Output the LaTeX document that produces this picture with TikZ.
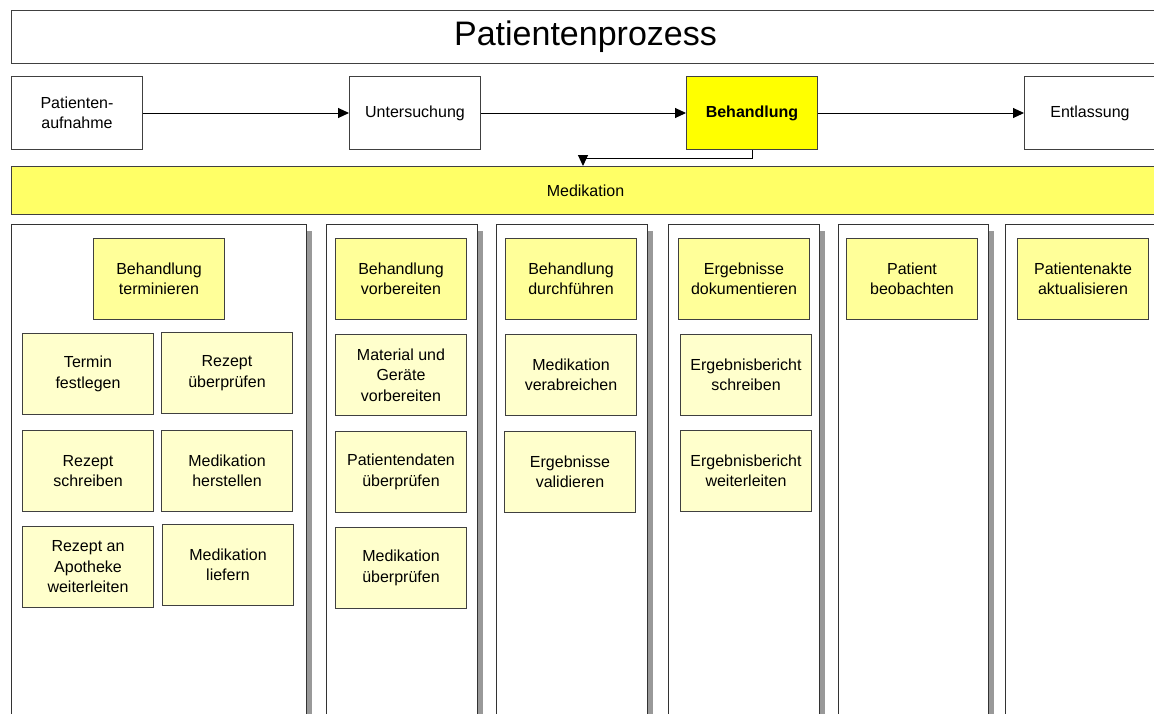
\documentclass[tikz,border=0pt]{standalone}
\usepackage{fontspec}
\setmainfont{Liberation Sans}
\usetikzlibrary{positioning, shadows, arrows.meta}

\definecolor{stepYellow}{HTML}{FFFF00}
\definecolor{barYellow}{HTML}{FFFF66}
\definecolor{taskYellow}{HTML}{FFFF99}
\definecolor{subYellow}{HTML}{FFFFCC}

\begin{document}
\begin{tikzpicture}[x=1pt, y=-1pt,
    box/.style={draw=black!75, line width=1pt, inner sep=2pt, anchor=north west,
      minimum width=131pt, minimum height=81pt, align=center,
      font=\fontsize{16}{20.5}\selectfont},
    task/.style={box, fill=taskYellow},
    subtask/.style={box, fill=subYellow},
    stage/.style={box, fill=white, minimum height=73pt},
    bar/.style={draw=black!75, line width=1pt, anchor=north west, minimum width=1148pt},
    lane/.style={draw=black!80, fill=white, line width=1pt, anchor=north west,
      minimum height=516pt,
      drop shadow={shadow xshift=5pt, shadow yshift=-6pt, fill=black!40, opacity=1}},
    flow/.style={-{Triangle[length=11pt,width=10pt]}, line width=1pt}]

    \useasboundingbox (0,0) rectangle (1154,713);
    \fill[white] (0,0) rectangle (1154,713);

    % Title bar
    \node[bar, fill=white, minimum height=53pt, font=\fontsize{34}{40}\selectfont]
    (title) at (11,10) {Patientenprozess};

    % Main process stages
    \node[stage] (aufnahme) at (11,76) {Patienten-\\aufnahme};
    \node[stage] (untersuchung) at (349,76) {Untersuchung};
    \node[stage, fill=stepYellow, font=\fontsize{16}{20.5}\selectfont\bfseries]
    (behandlung) at (686,76) {Behandlung};
    \node[stage] (entlassung) at (1024,76) {Entlassung};

    \draw[flow] (aufnahme) -- (untersuchung);
    \draw[flow] (untersuchung) -- (behandlung);
    \draw[flow] (behandlung) -- (entlassung);

    % Medikation bar
    \node[bar, fill=barYellow, minimum height=48pt, font=\fontsize{16}{20.5}\selectfont]
    (medikation) at (11,166) {Medikation};
    \coordinate (medIn) at (583,166);
    \draw[flow] (behandlung.south) -- ++(0,8) -| (medIn);

    % Swimlanes
    \node[lane, minimum width=295pt] (laneTerminieren) at (11,224) {};
    \node[lane, minimum width=151pt] (laneVorbereiten) at (326,224) {};
    \node[lane, minimum width=151pt] (laneDurchfuehren) at (496,224) {};
    \node[lane, minimum width=151pt] (laneDokumentieren) at (668,224) {};
    \node[lane, minimum width=150pt] (laneBeobachten) at (838,224) {};
    \node[lane, minimum width=170pt] (laneAktualisieren) at (1005,224) {};

    % Behandlung terminieren
    \node[task] (terminieren) at (93,238) {Behandlung\\terminieren};
    \node[subtask] (terminFestlegen) at (22,333) {Termin\\festlegen};
    \node[subtask] (rezeptPruefen) at (161,332) {Rezept\\überprüfen};
    \node[subtask] (rezeptSchreiben) at (22,430) {Rezept\\schreiben};
    \node[subtask] (medHerstellen) at (161,430) {Medikation\\herstellen};
    \node[subtask] (rezeptApotheke) at (22,526) {Rezept an\\Apotheke\\weiterleiten};
    \node[subtask] (medLiefern) at (162,524) {Medikation\\liefern};

    % Behandlung vorbereiten
    \node[task] (vorbereiten) at (335,238) {Behandlung\\vorbereiten};
    \node[subtask] (material) at (335,334) {Material und\\Geräte\\vorbereiten};
    \node[subtask] (patDaten) at (335,431) {Patientendaten\\überprüfen};
    \node[subtask] (medPruefen) at (335,527) {Medikation\\überprüfen};

    % Behandlung durchfuehren
    \node[task] (durchfuehren) at (505,238) {Behandlung\\durchführen};
    \node[subtask] (medVerabreichen) at (505,334) {Medikation\\verabreichen};
    \node[subtask] (validieren) at (504,431) {Ergebnisse\\validieren};

    % Ergebnisse dokumentieren
    \node[task] (dokumentieren) at (678,238) {Ergebnisse\\dokumentieren};
    \node[subtask] (berichtSchreiben) at (680,334) {Ergebnisbericht\\schreiben};
    \node[subtask] (berichtWeiter) at (680,430) {Ergebnisbericht\\weiterleiten};

    % Beobachten und Akte
    \node[task] (beobachten) at (846,238) {Patient\\beobachten};
    \node[task] (akte) at (1017,238) {Patientenakte\\aktualisieren};

  \end{tikzpicture}
\end{document}
